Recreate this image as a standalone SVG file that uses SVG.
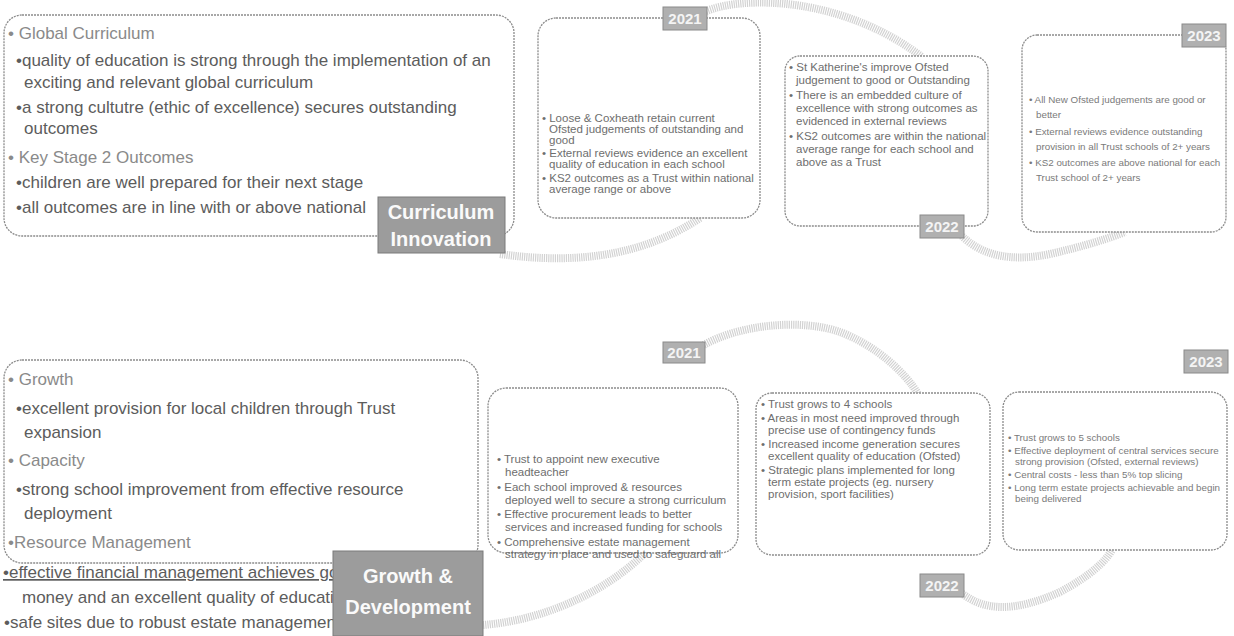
<svg xmlns="http://www.w3.org/2000/svg" width="1234" height="636" viewBox="0 0 1234 636">
<defs>
<style>
.box{fill:#fff;stroke:#8c8c8c;stroke-width:1.3;stroke-dasharray:2 1}
.rib{fill:none;stroke:#d2d2d2;stroke-width:8;stroke-dasharray:1.2 1}
.tag{fill:#b0b0b0;stroke:#8a8a8a;stroke-width:1}
.tagt{font-family:"Liberation Sans",Arial,sans-serif;font-weight:bold;font-size:15px;fill:#f4f4f4;text-anchor:middle}
.lab{fill:#9c9c9c;stroke:#7a7a7a;stroke-width:1}
.labt{font-family:"Liberation Sans",Arial,sans-serif;font-weight:bold;font-size:20px;fill:#fafafa;text-anchor:middle}
.big{font-family:"Liberation Sans",Arial,sans-serif;font-size:17px;fill:#5c5c5c}
.hd{fill:#8a8a8a}
.sm{font-family:"Liberation Sans",Arial,sans-serif;font-size:11.5px;fill:#6e6e6e}
.xs{font-family:"Liberation Sans",Arial,sans-serif;font-size:9.8px;fill:#7a7a7a}
</style>
<clipPath id="clipL"><rect x="0" y="555" width="334" height="81"/></clipPath>
</defs>

<g id="connectors">
<path class="rib" d="M 500 254 C 570 264 640 258 700 218"/>
<path class="rib" d="M 704 12 C 745 -6 845 -2 922 57"/>
<path class="rib" d="M 962 236 C 982 256 1012 262 1050 254 C 1085 246 1110 238 1125 232"/>
<path class="rib" d="M 483 625 C 545 620 605 592 645 553"/>
<path class="rib" d="M 702 346 C 737 325 800 318 840 332 C 875 345 905 372 918 394"/>
<path class="rib" d="M 960 592 C 985 612 1015 612 1060 592 C 1090 576 1105 562 1112 550"/>
</g>

<g id="curriculum-box">
<rect class="box" x="4" y="15" width="510" height="221" rx="18"/>
<text class="big hd" x="8" y="39">• Global Curriculum</text>
<text class="big" x="16" y="66">•quality of education is strong through the implementation of an</text>
<text class="big" x="24" y="88">exciting and relevant global curriculum</text>
<text class="big" x="16" y="113">•a strong cultutre (ethic of excellence) secures outstanding</text>
<text class="big" x="24" y="134">outcomes</text>
<text class="big hd" x="8" y="163">• Key Stage 2 Outcomes</text>
<text class="big" x="16" y="188">•children are well prepared for their next stage</text>
<text class="big" x="16" y="213">•all outcomes are in line with or above national</text>
</g>

<g id="curriculum-label">
<rect class="lab" x="378" y="197" width="127" height="56"/>
<text class="labt" x="441" y="219">Curriculum</text>
<text class="labt" x="441" y="246">Innovation</text>
</g>

<g id="top-2021">
<rect class="box" x="538" y="18" width="222" height="200" rx="18"/>
<rect class="tag" x="663" y="7" width="44" height="23"/>
<text class="tagt" x="685" y="24">2021</text>
<text class="sm" x="542" y="122">• Loose &amp; Coxheath retain current</text>
<text class="sm" x="549" y="133">Ofsted judgements of outstanding and</text>
<text class="sm" x="549" y="144">good</text>
<text class="sm" x="542" y="157">• External reviews evidence an excellent</text>
<text class="sm" x="549" y="168">quality of education in each school</text>
<text class="sm" x="542" y="182">• KS2 outcomes as a Trust within national</text>
<text class="sm" x="549" y="193">average range or above</text>
</g>

<g id="top-2022">
<rect class="box" x="785" y="56" width="203" height="170" rx="15"/>
<rect class="tag" x="920" y="215" width="44" height="23"/>
<text class="tagt" x="942" y="232">2022</text>
<text class="sm" x="789" y="71">• St Katherine's improve Ofsted</text>
<text class="sm" x="796" y="84">judgement to good or Outstanding</text>
<text class="sm" x="789" y="99">• There is an embedded culture of</text>
<text class="sm" x="796" y="112">excellence with strong outcomes as</text>
<text class="sm" x="796" y="125">evidenced in external reviews</text>
<text class="sm" x="789" y="140">• KS2 outcomes are within the national</text>
<text class="sm" x="796" y="153">average range for each school and</text>
<text class="sm" x="796" y="166">above as a Trust</text>
</g>

<g id="top-2023">
<rect class="box" x="1022" y="35" width="204" height="197" rx="15"/>
<rect class="tag" x="1182" y="24" width="44" height="23"/>
<text class="tagt" x="1204" y="41">2023</text>
<text class="xs" x="1029" y="103">• All New Ofsted judgements are good or</text>
<text class="xs" x="1036" y="118">better</text>
<text class="xs" x="1029" y="135">• External reviews evidence outstanding</text>
<text class="xs" x="1036" y="150">provision in all Trust schools of 2+ years</text>
<text class="xs" x="1029" y="166">• KS2 outcomes are above national for each</text>
<text class="xs" x="1036" y="181">Trust school of 2+ years</text>
</g>

<g id="growth-box">
<rect class="box" x="4" y="360" width="474" height="203" rx="18"/>
<text class="big hd" x="8" y="385">• Growth</text>
<text class="big" x="16" y="414">•excellent provision for local children through Trust</text>
<text class="big" x="24" y="438">expansion</text>
<text class="big hd" x="8" y="466">• Capacity</text>
<text class="big" x="16" y="495">•strong school improvement from effective resource</text>
<text class="big" x="24" y="519">deployment</text>
<text class="big hd" x="8" y="548">•Resource Management</text>
<g clip-path="url(#clipL)">
<text class="big" x="3" y="578" text-decoration="underline">•effective financial management achieves go</text>
<text class="big" x="22" y="603">money and an excellent quality of educatio</text>
<text class="big" x="4" y="628">•safe sites due to robust estate managemen</text>
</g>
</g>

<g id="growth-label">
<rect class="lab" x="333" y="551" width="150" height="85"/>
<text class="labt" x="408" y="583">Growth &amp;</text>
<text class="labt" x="408" y="614">Development</text>
</g>

<g id="bottom-2021">
<rect class="tag" x="663" y="342" width="42" height="21"/>
<text class="tagt" x="684" y="358">2021</text>
<rect class="box" x="488" y="388" width="250" height="165" rx="18"/>
<text class="sm" x="497" y="463">• Trust to appoint new executive</text>
<text class="sm" x="505" y="476">headteacher</text>
<text class="sm" x="497" y="491">• Each school improved &amp; resources</text>
<text class="sm" x="505" y="504">deployed well to secure a strong curriculum</text>
<text class="sm" x="497" y="518">• Effective procurement leads to better</text>
<text class="sm" x="505" y="531">services and increased funding for schools</text>
<text class="sm" x="497" y="546">• Comprehensive estate management</text>
<text class="sm" x="505" y="558">strategy in place and used to safeguard all</text>
</g>

<g id="bottom-2022">
<rect class="box" x="756" y="393" width="234" height="162" rx="16"/>
<rect class="tag" x="920" y="574" width="44" height="23"/>
<text class="tagt" x="942" y="591">2022</text>
<text class="sm" x="761" y="408">• Trust grows to 4 schools</text>
<text class="sm" x="761" y="422">• Areas in most need improved through</text>
<text class="sm" x="768" y="434">precise use of contingency funds</text>
<text class="sm" x="761" y="448">• Increased income generation secures</text>
<text class="sm" x="768" y="460">excellent quality of education (Ofsted)</text>
<text class="sm" x="761" y="474">• Strategic plans implemented for long</text>
<text class="sm" x="768" y="486">term estate projects (eg. nursery</text>
<text class="sm" x="768" y="498">provision, sport facilities)</text>
</g>

<g id="bottom-2023">
<rect class="tag" x="1184" y="350" width="44" height="23"/>
<text class="tagt" x="1206" y="367">2023</text>
<rect class="box" x="1003" y="392" width="224" height="158" rx="16"/>
<text class="xs" x="1008" y="441">• Trust grows to 5 schools</text>
<text class="xs" x="1008" y="454">• Effective deployment of central services secure</text>
<text class="xs" x="1015" y="465">strong provision (Ofsted, external reviews)</text>
<text class="xs" x="1008" y="478">• Central costs - less than 5% top slicing</text>
<text class="xs" x="1008" y="491">• Long term estate projects achievable and begin</text>
<text class="xs" x="1015" y="502">being delivered</text>
</g>
</svg>
